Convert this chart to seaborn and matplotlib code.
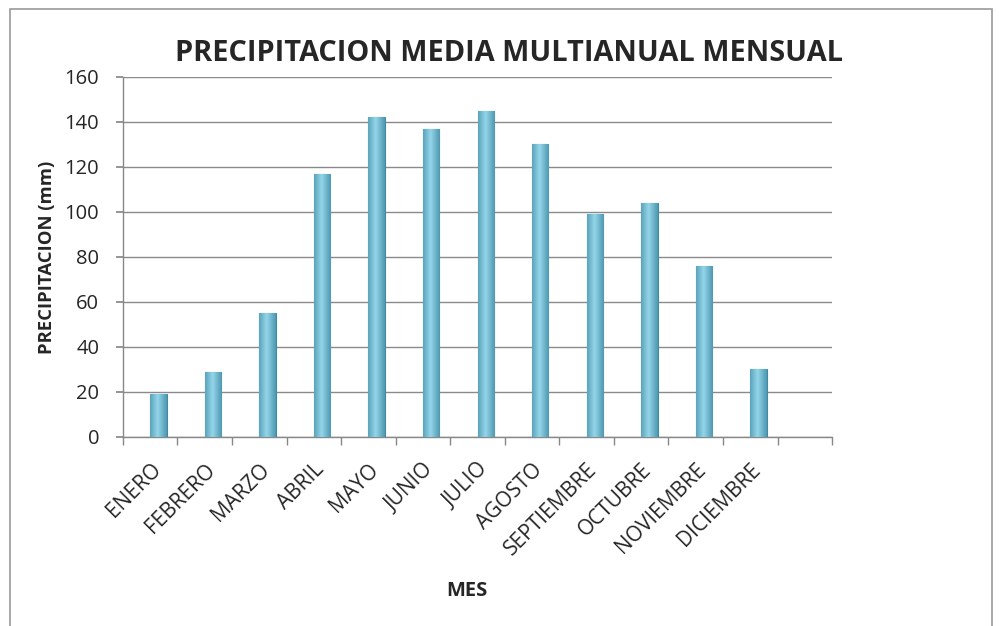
import numpy as np
import pandas as pd
import matplotlib
matplotlib.use("Agg")
import matplotlib.pyplot as plt
import seaborn as sns
from matplotlib.patches import Rectangle

meses = ["ENERO", "FEBRERO", "MARZO", "ABRIL", "MAYO", "JUNIO", "JULIO",
         "AGOSTO", "SEPTIEMBRE", "OCTUBRE", "NOVIEMBRE", "DICIEMBRE"]
precipitacion = [19, 29, 55, 117, 142, 137, 145, 130, 99, 104, 76, 30]
yticks = [0, 20, 40, 60, 80, 100, 120, 140, 160]

df = pd.DataFrame({"mes": meses, "precipitacion": precipitacion})

sns.set_theme(style="white")
plt.rcParams["font.family"] = ["Open Sans", "DejaVu Sans"]

fig = plt.figure(figsize=(9.99, 6.26), dpi=100)
ax = fig.add_axes([0.123, 0.302, 0.710, 0.575])

sns.barplot(data=df, x="mes", y="precipitacion", ax=ax, width=0.3,
            color="#5aaec8", edgecolor="#3f8aa3", linewidth=0.8, zorder=3)

# cylinder-like gradient inside each bar
grad = np.linspace(0, 1, 64)
shade = 1 - np.abs(grad - 0.45) * 1.5
cmap = matplotlib.colors.LinearSegmentedColormap.from_list(
    "cyl", ["#3f8ba4", "#94d6ea"])
for p in ax.patches:
    x0, y0 = p.get_x(), p.get_y()
    w, h = p.get_width(), p.get_height()
    im = ax.imshow(shade[None, :], extent=[x0, x0 + w, y0, y0 + h],
                   aspect="auto", cmap=cmap, vmin=0, vmax=1, zorder=3.5,
                   interpolation="bicubic")
    im.set_clip_path(p)

ax.set_xlim(-0.65, 12.35)
ax.set_ylim(0, 160)
ax.set_yticks(yticks)
ax.set_yticklabels([str(v) for v in yticks], fontsize=14.5)
ax.set_xticks(np.arange(len(meses)) - 0.15)
ax.set_xticklabels(meses, rotation=45, ha="right", rotation_mode="anchor",
                   fontsize=15)
ax.tick_params(axis="x", which="major", length=0, pad=16)
ax.set_xticks(np.arange(-0.65, 12.4, 1.0), minor=True)
ax.tick_params(axis="x", which="minor", length=6, color="#888888",
               width=1, direction="out", bottom=True)
ax.tick_params(axis="y", length=5, color="#888888", left=True, pad=12)

ax.yaxis.grid(True, color="#8a8a8a", linewidth=1, zorder=0)
ax.set_axisbelow(True)
for s in ["top", "right"]:
    ax.spines[s].set_visible(False)
for s in ["left", "bottom"]:
    ax.spines[s].set_color("#888888")
    ax.spines[s].set_linewidth(1)

ax.set_xlabel("MES", fontsize=14.5, fontweight="bold")
ax.set_ylabel("PRECIPITACION (mm)", fontsize=13.3, fontweight="bold")
ax.xaxis.set_label_coords(0.485, -0.40)
ax.yaxis.set_label_coords(-0.094, 0.5)

fig.text(0.510, 0.915, "PRECIPITACION MEDIA MULTIANUAL MENSUAL",
         ha="center", va="center", fontsize=20.8, fontweight="bold")

fig.patches.append(Rectangle((0.010, -0.01), 0.983, 0.996,
                             transform=fig.transFigure, fill=False,
                             edgecolor="#9a9a9a", linewidth=1.2))

fig.savefig("out.png", dpi=100, facecolor="white")
